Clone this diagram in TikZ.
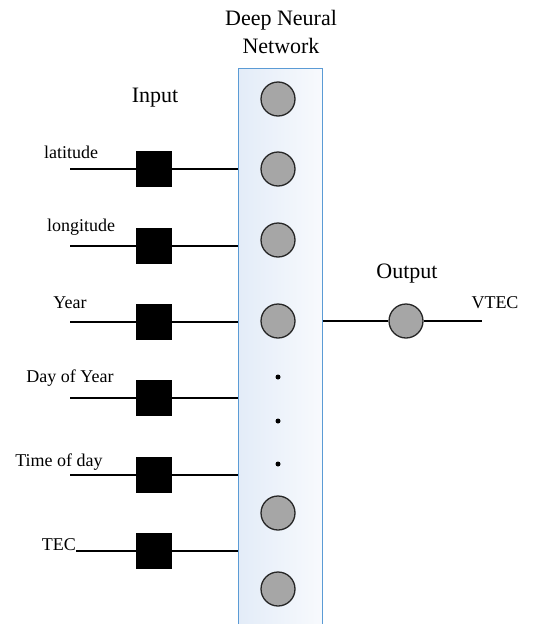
\documentclass[tikz,border=0pt]{standalone}
\usepackage{fontspec}
\setmainfont{Liberation Serif}
\definecolor{boxblue}{HTML}{5B9BD5}
\definecolor{nodegray}{HTML}{A6A6A6}
\definecolor{shadeL}{HTML}{E3ECF8}
\definecolor{shadeR}{HTML}{F8FAFD}
\begin{document}
\begin{tikzpicture}[x=1pt,y=-1pt,
  neuron/.style={circle,draw=black!85,line width=1.3pt,fill=nodegray,minimum size=34pt,inner sep=0pt},
  sqbox/.style={rectangle,fill=black,minimum size=36pt,inner sep=0pt},
  wire/.style={line width=1.5pt},
  lab/.style={font=\fontsize{18}{21}\selectfont,anchor=base,inner sep=0pt},
  head/.style={font=\fontsize{22}{26}\selectfont,anchor=base,inner sep=0pt},
  dotn/.style={circle,fill=black,minimum size=5pt,inner sep=0pt}]
\useasboundingbox (0,0) rectangle (535,624);
\clip (0,0) rectangle (535,624);
\node[draw=boxblue,line width=1pt,left color=shadeL,right color=shadeR,minimum width=84pt,minimum height=566pt,inner sep=0pt] (dnn) at (280,351) {};
% neurons
\node[neuron] (c1) at (278,99) {};
\node[neuron] (c2) at (278,169) {};
\node[neuron] (c3) at (278,240) {};
\node[neuron] (c4) at (278,321) {};
\node[neuron] (c5) at (278,513) {};
\node[neuron] (c6) at (278,589) {};
\node[dotn] (d1) at (278,377) {};
\node[dotn] (d2) at (278,421) {};
\node[dotn] (d3) at (278,464) {};
% input squares
\node[sqbox] (s1) at (154,169) {};
\node[sqbox] (s2) at (154,246) {};
\node[sqbox] (s3) at (154,322) {};
\node[sqbox] (s4) at (154,398) {};
\node[sqbox] (s5) at (154,475) {};
\node[sqbox] (s6) at (154,551) {};
\coordinate (i1) at (70,169);
\coordinate (i2) at (70,246);
\coordinate (i3) at (70,322);
\coordinate (i4) at (70,398);
\coordinate (i5) at (70,475);
\coordinate (i6) at (76,551);
\foreach \k in {1,...,6}{
  \draw[wire] (i\k) -- (s\k.west);
  \draw[wire] (s\k.east) -- (s\k.east -| dnn.west);
}
% labels
\node[lab] (l1) at (71,158) {latitude};
\node[lab] (l2) at (81,231) {longitude};
\node[lab] (l3) at (70,308) {Year};
\node[lab] (l4) at (70,382) {Day of Year};
\node[lab] (l5) at (59,466) {Time of day};
\node[lab,anchor=base east] (l6) at (76,550) {TEC};
% output
\node[neuron] (out) at (406,321) {};
\coordinate (vt) at (482,321);
\draw[wire] (c4 -| dnn.east) -- (out.west);
\draw[wire] (out.east) -- (vt);
\node[lab] (vl) at (495,308) {VTEC};
% headings
\node[head] (h1) at (281,25) {Deep Neural};
\node[head] (h2) at (281,53) {Network};
\node[head] (hin) at (155,102) {Input};
\node[head] (hout) at (407,278) {Output};
\end{tikzpicture}
\end{document}
